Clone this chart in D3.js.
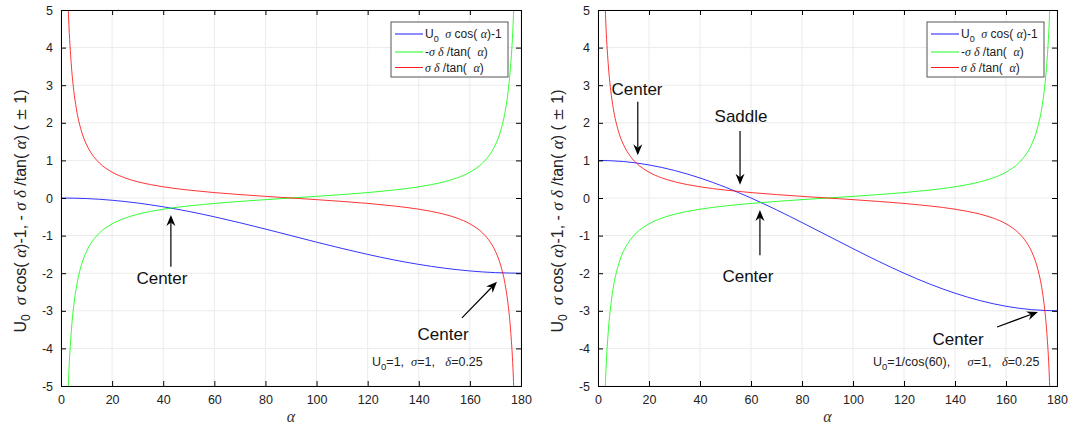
<!DOCTYPE html>
<html><head><meta charset="utf-8">
<script src="https://cdn.jsdelivr.net/npm/d3@7"></script>
<style>
body{margin:0;background:#fff;}
svg{display:block;font-family:"Liberation Sans",Arial,sans-serif;}
svg text{white-space:pre;}
</style></head>
<body><svg id="c" width="1091" height="429"></svg>
<script>
// ---- data ----
const alphaBlue = [0,10,20,30,40,50,60,70,80,90,100,110,120,130,140,150,160,170,180];
const blueLeft  = [0,-0.015,-0.060,-0.134,-0.234,-0.357,-0.5,-0.658,-0.826,-1,-1.174,-1.342,-1.5,-1.643,-1.766,-1.866,-1.940,-1.985,-2];
const blueRight = [1,0.970,0.879,0.732,0.532,0.286,0,-0.316,-0.653,-1,-1.347,-1.684,-2,-2.286,-2.532,-2.732,-2.879,-2.970,-3];
const alphaTan  = [1,2,3,4,5,6,8,10,12,15,20,25,30,35,40,45,50,60,70,80,90,100,110,120,130,135,140,145,150,155,160,165,168,170,172,174,175,176,177,178,179];
const redVals   = [14.32,7.159,4.770,3.575,2.858,2.379,1.779,1.418,1.176,0.933,0.687,0.536,0.433,0.357,0.298,0.25,0.210,0.144,0.091,0.044,0,-0.044,-0.091,-0.144,-0.210,-0.25,-0.298,-0.357,-0.433,-0.536,-0.687,-0.933,-1.176,-1.418,-1.779,-2.379,-2.858,-3.575,-4.770,-7.159,-14.32];
const greenVals = [-14.32,-7.159,-4.770,-3.575,-2.858,-2.379,-1.779,-1.418,-1.176,-0.933,-0.687,-0.536,-0.433,-0.357,-0.298,-0.25,-0.210,-0.144,-0.091,-0.044,0,0.044,0.091,0.144,0.210,0.25,0.298,0.357,0.433,0.536,0.687,0.933,1.176,1.418,1.779,2.379,2.858,3.575,4.770,7.159,14.32];
const xTicks = [0,20,40,60,80,100,120,140,160,180];
const yTicks = [-5,-4,-3,-2,-1,0,1,2,3,4,5];
const seriesColors = ["#0000ff","#00ff00","#ff0000"];
const leftNotes = [
  {t:"Center", tx:39.5, ty:-2.28, ax:43.0, ay:-1.83, bx:43.0, by:-0.45},
  {t:"Center", tx:149.5, ty:-3.78, ax:156.9, ay:-3.19, bx:170.6, by:-2.23}
];
const rightNotes = [
  {t:"Center", tx:15.3, ty:2.74, ax:15.6, ay:2.56, bx:15.6, by:1.14},
  {t:"Saddle", tx:56.1, ty:2.02, ax:55.7, ay:1.78, bx:55.7, by:0.35},
  {t:"Center", tx:58.8, ty:-2.23, ax:63.5, ay:-1.52, bx:63.5, by:-0.32},
  {t:"Center", tx:141.2, ty:-3.91, ax:156.5, ay:-3.43, bx:172.5, by:-3.03}
];

const svg = d3.select("#c");
const greek = 'font-family:"Liberation Serif","Times New Roman",serif;font-style:italic';

function drawPanel(id, left, right, blueVals, notes, paramKind){
  const top = 10, bottom = 386;
  const x = d3.scaleLinear().domain([0,180]).range([left,right]);
  const y = d3.scaleLinear().domain([-5,5]).range([bottom,top]);
  const g = svg.append("g");
  g.append("clipPath").attr("id","clip"+id).append("rect")
    .attr("x",left).attr("y",top).attr("width",right-left).attr("height",bottom-top);
  // grid
  g.append("g").selectAll("line").data(xTicks).join("line")
    .attr("x1",d=>x(d)).attr("x2",d=>x(d)).attr("y1",top).attr("y2",bottom)
    .attr("stroke","#ebebeb").attr("stroke-width",1);
  g.append("g").selectAll("line").data(yTicks).join("line")
    .attr("y1",d=>y(d)).attr("y2",d=>y(d)).attr("x1",left).attr("x2",right)
    .attr("stroke","#ebebeb").attr("stroke-width",1);
  // curves
  const cg = g.append("g").attr("clip-path","url(#clip"+id+")");
  const line = d3.line().curve(d3.curveMonotoneX);
  const red = alphaTan.map((a,i)=>[x(a),y(redVals[i])]);
  const green = alphaTan.map((a,i)=>[x(a),y(greenVals[i])]);
  const blue = alphaBlue.map((a,i)=>[x(a),y(blueVals[i])]);
  cg.append("path").attr("d",line(blue)).attr("fill","none").attr("stroke",seriesColors[0]).attr("stroke-width",0.8);
  cg.append("path").attr("d",line(green)).attr("fill","none").attr("stroke",seriesColors[1]).attr("stroke-width",0.8);
  cg.append("path").attr("d",line(red)).attr("fill","none").attr("stroke",seriesColors[2]).attr("stroke-width",0.8);
  // axes
  const ax = d3.axisBottom(x).tickValues(xTicks).tickSize(-5).tickPadding(9).tickFormat(d3.format("d"));
  const ay = d3.axisLeft(y).tickValues(yTicks).tickSize(-5).tickPadding(8).tickFormat(d=>String(d));
  const axT = d3.axisTop(x).tickValues(xTicks).tickSize(-5).tickFormat("");
  const ayR = d3.axisRight(y).tickValues(yTicks).tickSize(-5).tickFormat("");
  [[ax,`translate(0,${bottom})`],[axT,`translate(0,${top})`],[ay,`translate(${left},0)`],[ayR,`translate(${right},0)`]].forEach(([a,tr])=>{
    const s = g.append("g").attr("transform",tr).call(a);
    s.select(".domain").attr("stroke","#000").attr("stroke-width",1);
    s.selectAll(".tick line").attr("stroke","#000");
    s.selectAll("text").attr("font-size",12.5).attr("fill","#222").attr("font-family",'"Liberation Sans",Arial,sans-serif');
  });
  // x label
  g.append("text").attr("x",(left+right)/2).attr("y",422).attr("text-anchor","middle")
    .attr("style",greek).attr("font-size",16).attr("fill","#333").text("α");
  // y label
  const yl = g.append("text").attr("transform",`translate(${left-35},${(top+bottom)/2+13}) rotate(-90)`)
    .attr("text-anchor","middle").attr("font-size",16).attr("fill","#222");
  yl.append("tspan").text("U");
  yl.append("tspan").attr("font-size",12).attr("dy",4).text("0");
  yl.append("tspan").attr("dy",-4).text("  ");
  yl.append("tspan").attr("style",greek).attr("font-size",17).text("σ");
  yl.append("tspan").text(" cos( ");
  yl.append("tspan").attr("style",greek).attr("font-size",17).text("α");
  yl.append("tspan").text(")-1, - ");
  yl.append("tspan").attr("style",greek).attr("font-size",17).text("σ δ");
  yl.append("tspan").text(" /tan( ");
  yl.append("tspan").attr("style",greek).attr("font-size",17).text("α");
  yl.append("tspan").text(") ( ");
  yl.append("tspan").attr("style",'font-family:"DejaVu Serif",serif').attr("font-size",15).text("±");
  yl.append("tspan").text(" 1)");
  // legend
  const lx = right-130, ly = 22, lw = 117, lh = 55;
  const lg = g.append("g");
  lg.append("rect").attr("x",lx).attr("y",ly).attr("width",lw).attr("height",lh)
    .attr("fill","#fff").attr("stroke","#555").attr("stroke-width",1);
  const rows = [12,30,45.5];
  rows.forEach((dy,i)=>{
    lg.append("line").attr("x1",lx+4).attr("x2",lx+32).attr("y1",ly+dy).attr("y2",ly+dy)
      .attr("stroke",seriesColors[i]).attr("stroke-width",0.9);
  });
  const t1 = lg.append("text").attr("x",lx+34).attr("y",ly+dy0(0)).attr("font-size",12).attr("fill","#222");
  function dy0(i){return rows[i]+4;}
  t1.append("tspan").text("U");
  t1.append("tspan").attr("font-size",9).attr("dy",4).text("0");
  t1.append("tspan").attr("dy",-4).text("  ");
  t1.append("tspan").attr("style",greek).text("σ");
  t1.append("tspan").text(" cos( ");
  t1.append("tspan").attr("style",greek).text("α");
  t1.append("tspan").text(")-1");
  const t2 = lg.append("text").attr("x",lx+34).attr("y",ly+dy0(1)).attr("font-size",12).attr("fill","#222");
  t2.append("tspan").text("-");
  t2.append("tspan").attr("style",greek).text("σ δ");
  t2.append("tspan").text(" /tan(  ");
  t2.append("tspan").attr("style",greek).text("α");
  t2.append("tspan").text(")");
  const t3 = lg.append("text").attr("x",lx+34).attr("y",ly+dy0(2)).attr("font-size",12).attr("fill","#222");
  t3.append("tspan").attr("style",greek).text("σ δ");
  t3.append("tspan").text(" /tan(  ");
  t3.append("tspan").attr("style",greek).text("α");
  t3.append("tspan").text(")");
  // parameter text
  const pt = g.append("text").attr("y",366).attr("font-size",12.5).attr("fill","#222");
  if(paramKind===0){
    pt.attr("x",left+311);
    pt.append("tspan").text("U");
    pt.append("tspan").attr("font-size",9.5).attr("dy",4).text("0");
    pt.append("tspan").attr("dy",-4).text("=1,  ");
    pt.append("tspan").attr("style",greek).text("σ");
    pt.append("tspan").text("=1,   ");
    pt.append("tspan").attr("style",greek).text("δ");
    pt.append("tspan").text("=0.25");
  } else {
    pt.attr("x",left+275);
    pt.append("tspan").text("U");
    pt.append("tspan").attr("font-size",9.5).attr("dy",4).text("0");
    pt.append("tspan").attr("dy",-4).text("=1/cos(60),     ");
    pt.append("tspan").attr("style",greek).text("σ");
    pt.append("tspan").text("=1,   ");
    pt.append("tspan").attr("style",greek).text("δ");
    pt.append("tspan").text("=0.25");
  }
  // annotations
  notes.forEach(n=>{
    g.append("text").attr("x",x(n.tx)).attr("y",y(n.ty)).attr("text-anchor","middle")
      .attr("font-size",17).attr("fill","#111").text(n.t);
    const x1=x(n.ax), y1=y(n.ay), x2=x(n.bx), y2=y(n.by);
    const ang = Math.atan2(y2-y1,x2-x1);
    const L=11, W=4.5, back=7.5;
    const ux=Math.cos(ang), uy=Math.sin(ang), px=-uy, py=ux;
    const bx=x2-ux*L, by=y2-uy*L;
    const nx=x2-ux*back, ny=y2-uy*back;
    g.append("line").attr("x1",x1).attr("y1",y1).attr("x2",nx).attr("y2",ny).attr("stroke","#000").attr("stroke-width",1.2);
    g.append("path").attr("d",`M${x2},${y2}L${bx+px*W},${by+py*W}L${nx},${ny}L${bx-px*W},${by-py*W}Z`).attr("fill","#000");
  });
}
drawPanel("L",61,521,blueLeft,leftNotes,0);
drawPanel("R",598,1057,blueRight,rightNotes,1);
</script></body></html>
